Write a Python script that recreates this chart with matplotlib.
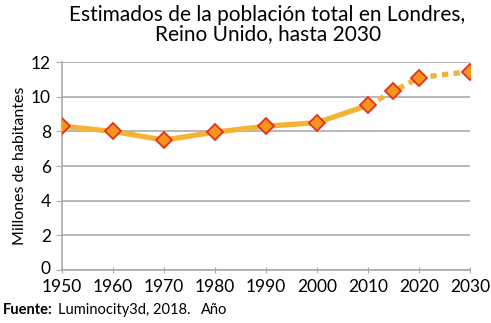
import matplotlib.pyplot as plt
from matplotlib.transforms import offset_copy

# datos
anios_real = [1950, 1960, 1970, 1980, 1990, 2000, 2010]
pob_real = [8.3, 8.0, 7.5, 7.95, 8.3, 8.5, 9.5]
anios_proy = [2010, 2015, 2020, 2030]
pob_proy = [9.5, 10.3, 11.1, 11.45]
ticks_x = [1950, 1960, 1970, 1980, 1990, 2000, 2010, 2020, 2030]
ticks_y = [0, 2, 4, 6, 8, 10, 12]

plt.rcParams['font.family'] = ['Lato', 'DejaVu Sans']

fig = plt.figure(figsize=(4.91, 3.23), dpi=100)
ax = fig.add_axes([0.126, 0.164, 0.831, 0.644])

linea = '#F5B335'
relleno = '#F7941D'
borde = '#E2311D'

ax.plot(anios_real, pob_real, color=linea, lw=3.8, solid_capstyle='round', zorder=2)
ax.plot(anios_proy, pob_proy, color=linea, lw=3.8, ls=(0, (1.2, 1.0)), zorder=2)
ax.plot(anios_real + anios_proy[1:], pob_real + pob_proy[1:], ls='none', marker='D',
        ms=8.5, mfc=relleno, mec=borde, mew=1.3, zorder=3)

ax.set_xlim(1950, 2030)
ax.set_ylim(0, 12)
ax.set_xticks(ticks_x)
ax.set_yticks(ticks_y)
ax.grid(axis='y', color='#AAAAAA', lw=1.2)
ax.set_axisbelow(True)
for s in ['top', 'right']:
    ax.spines[s].set_visible(False)
for s in ['left', 'bottom']:
    ax.spines[s].set_color('#AAAAAA')
    ax.spines[s].set_linewidth(1.2)
ax.tick_params(axis='x', direction='inout', length=5, color='#AAAAAA', labelsize=12.5, pad=4)
ax.tick_params(axis='y', direction='out', length=4, color='#AAAAAA', labelsize=12.5, pad=4)
ax.set_ylabel('Millones de habitantes', fontsize=11.5, labelpad=3)

# el "0" queda un poco por encima del eje, como en el original
lab0 = ax.yaxis.get_major_ticks()[0].label1
lab0.set_transform(offset_copy(lab0.get_transform(), fig=fig, y=3, units='dots'))

fig.text(0.545, 0.985, 'Estimados de la población total en Londres,\nReino Unido, hasta 2030',
         ha='center', va='top', fontsize=15, linespacing=0.95)

# pie: fuente y eje x
t1 = fig.text(0.006, 0.02, 'Fuente:', fontsize=10.5, fontweight='bold', va='bottom')
fig.canvas.draw()
r = fig.canvas.get_renderer()
x1 = t1.get_window_extent(r).x1 / fig.bbox.width
t2 = fig.text(x1 + 0.01, 0.02, 'Luminocity3d, 2018.', fontsize=10.5, va='bottom')
x2 = t2.get_window_extent(r).x1 / fig.bbox.width
fig.text(x2 + 0.022, 0.02, 'Año', fontsize=10.5, va='bottom')

fig.savefig('out.png', dpi=100)
